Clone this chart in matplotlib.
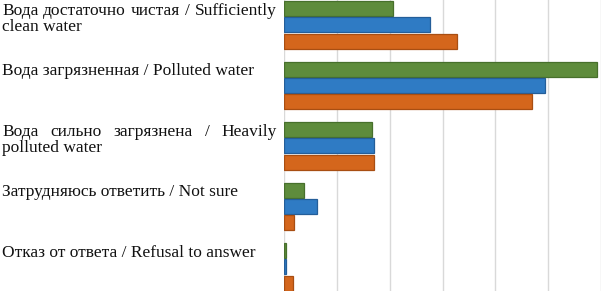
import matplotlib
matplotlib.use("Agg")
import matplotlib.pyplot as plt
import matplotlib.transforms as mtransforms
import numpy as np

categories = [
    ["Вода достаточно чистая / Sufficiently", "clean water"],
    ["Вода загрязненная / Polluted water"],
    ["Вода сильно загрязнена / Heavily", "polluted water"],
    ["Затрудняюсь ответить / Not sure"],
    ["Отказ от ответа / Refusal to answer"],
]
justify_first = [True, False, True, False, False]

series_green = [20.7, 59.2, 16.6, 3.7, 0.3]
series_blue = [27.7, 49.4, 17.0, 6.2, 0.4]
series_orange = [32.7, 46.9, 17.0, 1.9, 1.7]
xticks = [0, 10, 20, 30, 40, 50, 60]

W, H = 601, 291
fig = plt.figure(figsize=(W / 100, H / 100), dpi=100)
ax = fig.add_axes([284 / W, 0, 1 - 284 / W, 1])

y = np.arange(len(categories))
h = 0.248
off = 0.271
specs = [(series_green, -off, "#5E8C3C", "#47702C"),
         (series_blue, 0.0, "#2F7BC4", "#245E99"),
         (series_orange, off, "#D4661C", "#A84E12")]
for vals, o, fc, ec in specs:
    ax.barh(y + o, vals, height=h, color=fc, edgecolor=ec, linewidth=0.9, zorder=3)

ax.set_xlim(0, 59.25)
ax.set_ylim(4.397, -0.413)
ax.set_xticks(xticks)
ax.set_yticks([])
ax.tick_params(axis="x", length=0, labelbottom=False)
ax.grid(axis="x", color="#D9D9D9", linewidth=1.0, zorder=0)
for s in ax.spines.values():
    s.set_visible(False)

font = dict(family="Liberation Serif", size=12.5, color="#111111")
renderer = fig.canvas.get_renderer()
x0, x1 = 2, 277
line_gap = 16.5 / 60.5
tr = mtransforms.blended_transform_factory(fig.transFigure, ax.transData)

for i, lines in enumerate(categories):
    base = y[i] - 0.17
    for j, line in enumerate(lines):
        yy = base + j * line_gap
        if j == 0 and justify_first[i]:
            words = line.split(" ")
            texts = [fig.text(0, 0, w_, transform=tr, va="baseline", **font) for w_ in words]
            widths = [t.get_window_extent(renderer).width for t in texts]
            gap = (x1 - x0 - sum(widths)) / (len(words) - 1)
            xp = x0
            for t, wd in zip(texts, widths):
                t.set_position((xp / W, yy))
                xp += wd + gap
        else:
            fig.text(x0 / W, yy, line, transform=tr, va="baseline", **font)

fig.savefig("out.png", dpi=100)
